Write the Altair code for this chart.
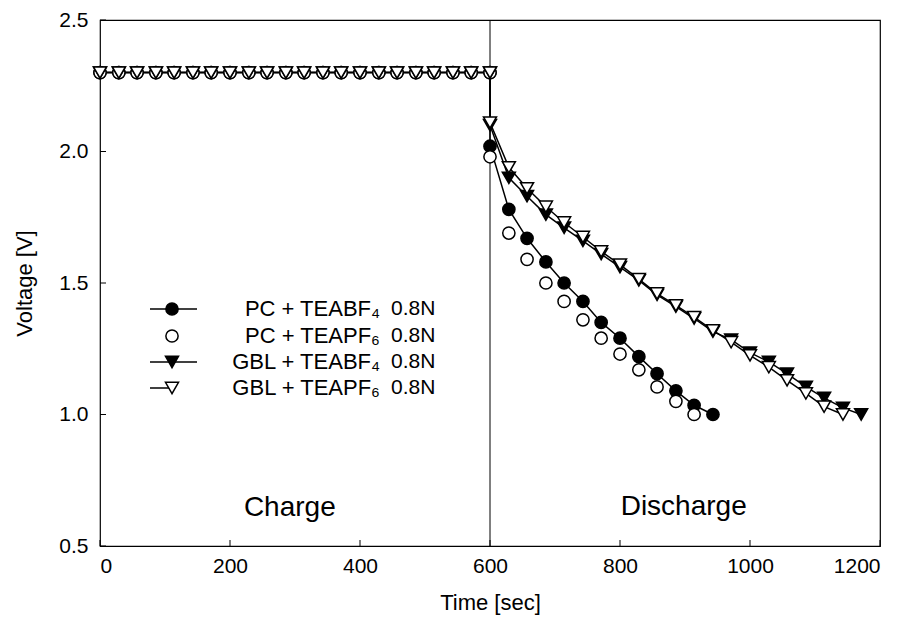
import altair as alt
import pandas as pd

# ---------------- data ----------------
charge_t = [0, 29, 57, 86, 114, 143, 171, 200, 229, 257, 286, 314, 343, 371, 400, 429, 457, 486, 514, 543, 571, 600]
charge_v = [2.30] * 22

dis_t = [600, 629, 657, 686, 714, 743, 771, 800, 829, 857, 886, 914, 943, 971, 1000, 1029, 1057, 1086, 1114, 1143, 1171]

pc_bf4 = [2.02, 1.78, 1.67, 1.58, 1.50, 1.43, 1.35, 1.29, 1.22, 1.155, 1.09, 1.035, 1.00]
pc_pf6 = [1.98, 1.69, 1.59, 1.50, 1.43, 1.36, 1.29, 1.23, 1.17, 1.105, 1.05, 1.00]
gbl_bf4 = [2.10, 1.90, 1.83, 1.76, 1.71, 1.66, 1.61, 1.56, 1.51, 1.455, 1.41, 1.365, 1.315, 1.285, 1.235, 1.20, 1.155, 1.105, 1.063, 1.025, 1.00]
gbl_pf6 = [2.11, 1.94, 1.86, 1.79, 1.73, 1.675, 1.62, 1.57, 1.515, 1.46, 1.415, 1.37, 1.32, 1.275, 1.225, 1.18, 1.13, 1.08, 1.03, 1.00]

series_names = ["PC + TEABF₄", "PC + TEAPF₆", "GBL + TEABF₄", "GBL + TEAPF₆"]
series_vals = [pc_bf4, pc_pf6, gbl_bf4, gbl_pf6]
conc_label = "0.8N"

x_ticks = [0, 200, 400, 600, 800, 1000, 1200]
y_ticks = [0.5, 1.0, 1.5, 2.0, 2.5]

W, H = 780, 526
FONT = "Liberation Sans, Arial"

# ---------------- tables ----------------
rows = []
for name, vals in zip(series_names, series_vals):
    k = 0
    for t, v in zip(charge_t, charge_v):
        rows.append({"s": name, "t": t, "v": v, "o": k}); k += 1
    for t, v in zip(dis_t, vals):
        rows.append({"s": name, "t": t, "v": v, "o": k}); k += 1
df = pd.DataFrame(rows)

xs = alt.Scale(domain=[0, 1200], nice=False)
ys = alt.Scale(domain=[0.5, 2.5], nice=False)

X = alt.X("t:Q", scale=xs, axis=alt.Axis(values=x_ticks, format="d", title="Time  [sec]", ticks=False, grid=False,
                                         domain=False, labelPadding=9, titlePadding=16,
                                         labelFontSize=21, titleFontSize=22, labelFont=FONT, titleFont=FONT,
                                         labelColor="black", titleColor="black", titleFontWeight="normal"))
Y = alt.Y("v:Q", scale=ys, axis=alt.Axis(values=y_ticks, format=".1f", title="Voltage  [V]", ticks=False,
                                         grid=False, domain=False, labelPadding=12, titlePadding=22,
                                         labelFontSize=21, titleFontSize=22, labelFont=FONT, titleFont=FONT,
                                         labelColor="black", titleColor="black", titleFontWeight="normal"))

layers = []

# separator at 600 s
layers.append(alt.Chart(pd.DataFrame({"t": [600]})).mark_rule(color="black", strokeWidth=1)
              .encode(x=alt.X("t:Q", scale=xs)))

# lines
for name in [series_names[0], series_names[2], series_names[3]]:
    layers.append(alt.Chart(df[df.s == name]).mark_line(color="black", strokeWidth=1.5)
                  .encode(x=X, y=Y, order="o:Q"))

# markers
styles = [("circle", "black", 150), ("circle", "white", 150), ("triangle-down", "black", 170), ("triangle-down", "white", 170)]
for name, (shape, fill, size) in zip(series_names, styles):
    layers.append(alt.Chart(df[df.s == name]).mark_point(shape=shape, fill=fill, filled=True, stroke="black",
                                                        strokeWidth=1.5, size=size, opacity=1)
                  .encode(x=X, y=Y))

# inward ticks
layers.append(alt.Chart(pd.DataFrame({"t": x_ticks})).mark_rule(color="black", strokeWidth=1)
              .encode(x=alt.X("t:Q", scale=xs), y=alt.value(H), y2=alt.value(H - 6)))
layers.append(alt.Chart(pd.DataFrame({"v": y_ticks})).mark_rule(color="black", strokeWidth=1)
              .encode(y=alt.Y("v:Q", scale=ys), x=alt.value(0), x2=alt.value(6)))

# phase labels
phase = pd.DataFrame({"t": [292, 898], "v": [0.645, 0.65], "lab": ["Charge", "Discharge"]})
layers.append(alt.Chart(phase).mark_text(font=FONT, fontSize=28, color="black")
              .encode(x=alt.X("t:Q", scale=xs), y=alt.Y("v:Q", scale=ys), text="lab:N"))

# legend
leg_y = [289, 316, 342, 368]
for i, (name, (shape, fill, size)) in enumerate(zip(series_names, styles)):
    yy = leg_y[i]
    if i != 1:
        x2 = 97 if i != 3 else 72
        layers.append(alt.Chart(pd.DataFrame({"a": [0]})).mark_rule(color="black", strokeWidth=1.5)
                      .encode(x=alt.value(50), x2=alt.value(x2), y=alt.value(yy)))
    layers.append(alt.Chart(pd.DataFrame({"a": [0]})).mark_point(shape=shape, fill=fill, filled=True, stroke="black",
                                                                 strokeWidth=1.5, size=size, opacity=1)
                  .encode(x=alt.value(72), y=alt.value(yy)))
    layers.append(alt.Chart(pd.DataFrame({"lab": [name]})).mark_text(font=FONT, fontSize=22, align="right",
                                                                     baseline="middle", color="black")
                  .encode(x=alt.value(280), y=alt.value(yy), text="lab:N"))
    layers.append(alt.Chart(pd.DataFrame({"lab": [conc_label]})).mark_text(font=FONT, fontSize=21, align="left",
                                                                           baseline="middle", color="black")
                  .encode(x=alt.value(291), y=alt.value(yy), text="lab:N"))

chart = alt.layer(*layers).properties(
    width=W, height=H,
    padding={"left": 92, "top": 12, "right": 16, "bottom": 70},
    autosize=alt.AutoSizeParams(type="none"),
    background="white",
).configure_view(stroke="black", strokeWidth=1.2)

chart.save("out.html", embed_options={"renderer": "svg", "actions": False})
